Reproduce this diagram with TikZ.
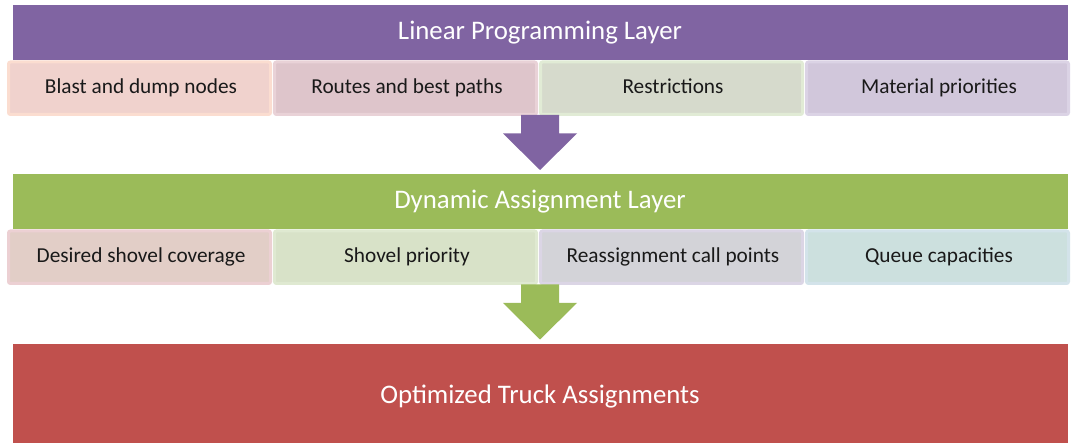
\documentclass[tikz,border=0pt]{standalone}
\usepackage{fontspec}
\setmainfont{Carlito}
\definecolor{lpPurple}{RGB}{128,100,162}
\definecolor{daGreen}{RGB}{155,187,89}
\definecolor{otRed}{RGB}{192,80,77}
% row 1 fills / rims
\definecolor{fA}{RGB}{240,210,205}\definecolor{rA}{RGB}{251,221,208}
\definecolor{fB}{RGB}{222,197,203}\definecolor{rB}{RGB}{233,210,215}
\definecolor{fC}{RGB}{214,218,204}\definecolor{rC}{RGB}{225,235,213}
\definecolor{fD}{RGB}{209,199,219}\definecolor{rD}{RGB}{219,211,229}
% row 2 fills / rims
\definecolor{gA}{RGB}{226,206,199}\definecolor{sA}{RGB}{236,208,211}
\definecolor{gB}{RGB}{216,226,200}\definecolor{sB}{RGB}{223,233,209}
\definecolor{gC}{RGB}{211,211,216}\definecolor{sC}{RGB}{219,213,229}
\definecolor{gD}{RGB}{204,224,222}\definecolor{sD}{RGB}{211,227,234}
\tikzset{
  layer/.style={inner sep=0pt, anchor=base, text=white,
    font=\fontsize{26.8}{30}\selectfont},
  itembox/.style={line width=3pt, rounded corners=2pt},
  itemtext/.style={inner sep=0pt, anchor=base, text=black!90,
    font=\fontsize{21.3}{25}\selectfont},
}
\begin{document}
\begin{tikzpicture}[x=1pt,y=-1pt]
\useasboundingbox (0,0) rectangle (1072,443);

% Linear programming layer
\fill[lpPurple] (13,5) rectangle (1068,60);
\node[layer] (lp) at (540,40) {Linear Programming Layer};

\foreach \i/\f/\r/\t in {0/fA/rA/Blast and dump nodes,1/fB/rB/Routes and best paths,2/fC/rC/Restrictions,3/fD/rD/Material priorities}{
  \draw[itembox, fill=\f, draw=\r] (8.5+266*\i,62) rectangle (270.5+266*\i,114.5);
  \node[itemtext] (lp\i) at (141+266*\i,93.5) {\t};
}

% arrow down to the assignment layer
\fill[lpPurple] (521,115) -- (559,115) -- (559,133.5) -- (577,133.5) -- (540,170)
  -- (503,133.5) -- (521,133.5) -- cycle;

% Dynamic assignment layer
\fill[daGreen] (13,174) rectangle (1068,229);
\node[layer] (da) at (540,209) {Dynamic Assignment Layer};

\foreach \i/\f/\r/\t in {0/gA/sA/Desired shovel coverage,1/gB/sB/Shovel priority,2/gC/sC/Reassignment call points,3/gD/sD/Queue capacities}{
  \draw[itembox, fill=\f, draw=\r] (8.5+266*\i,231) rectangle (270.5+266*\i,283.5);
  \node[itemtext] (da\i) at (141+266*\i,262.5) {\t};
}

% arrow down to the output
\fill[daGreen] (521,284.5) -- (559,284.5) -- (559,303) -- (577,303) -- (540,339.5)
  -- (503,303) -- (521,303) -- cycle;

% Output
\fill[otRed] (13,344) rectangle (1068,443);
\node[layer] (ot) at (540,404) {Optimized Truck Assignments};
\end{tikzpicture}
\end{document}
